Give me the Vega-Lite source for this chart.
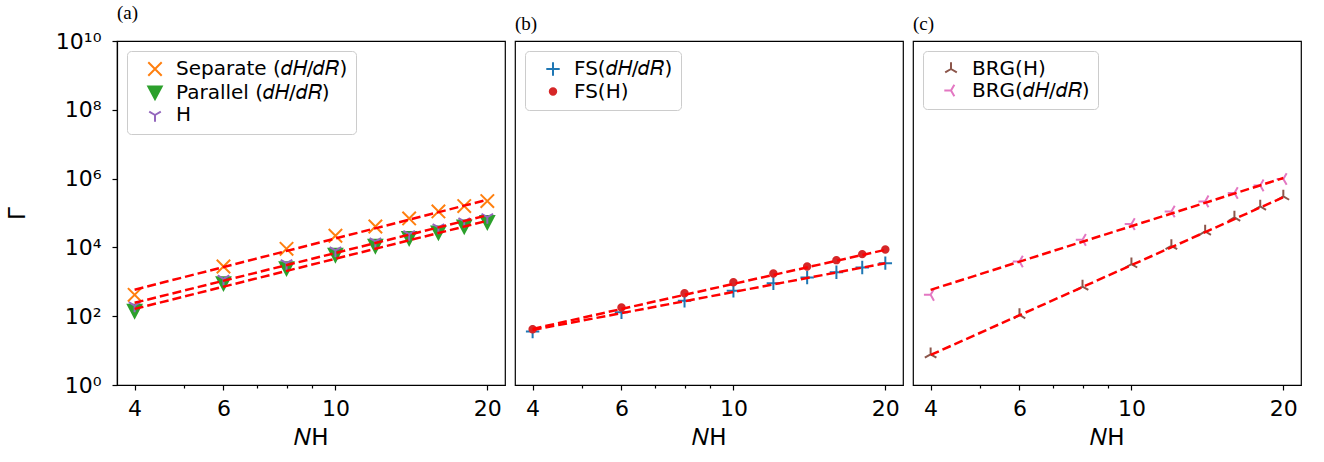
{
  "$schema": "https://vega.github.io/schema/vega-lite/v6.json",
  "padding": {"left": 5, "top": 3, "right": 5, "bottom": 5},
  "spacing": 8,
  "datasets": {
    "pts": [
      {"panel": "a", "series": "Separate (𝑑𝐻/𝑑𝑅)", "N": 4, "G": 417},
      {"panel": "a", "series": "Separate (𝑑𝐻/𝑑𝑅)", "N": 6, "G": 2786},
      {"panel": "a", "series": "Separate (𝑑𝐻/𝑑𝑅)", "N": 8, "G": 9100},
      {"panel": "a", "series": "Separate (𝑑𝐻/𝑑𝑅)", "N": 10, "G": 21800},
      {"panel": "a", "series": "Separate (𝑑𝐻/𝑑𝑅)", "N": 12, "G": 40600},
      {"panel": "a", "series": "Separate (𝑑𝐻/𝑑𝑅)", "N": 14, "G": 69500},
      {"panel": "a", "series": "Separate (𝑑𝐻/𝑑𝑅)", "N": 16, "G": 111000},
      {"panel": "a", "series": "Separate (𝑑𝐻/𝑑𝑅)", "N": 18, "G": 159000},
      {"panel": "a", "series": "Separate (𝑑𝐻/𝑑𝑅)", "N": 20, "G": 222000},
      {"panel": "a", "series": "Parallel (𝑑𝐻/𝑑𝑅)", "N": 4, "G": 143},
      {"panel": "a", "series": "Parallel (𝑑𝐻/𝑑𝑅)", "N": 6, "G": 912},
      {"panel": "a", "series": "Parallel (𝑑𝐻/𝑑𝑅)", "N": 8, "G": 2490},
      {"panel": "a", "series": "Parallel (𝑑𝐻/𝑑𝑅)", "N": 10, "G": 6090},
      {"panel": "a", "series": "Parallel (𝑑𝐻/𝑑𝑅)", "N": 12, "G": 11100},
      {"panel": "a", "series": "Parallel (𝑑𝐻/𝑑𝑅)", "N": 14, "G": 18600},
      {"panel": "a", "series": "Parallel (𝑑𝐻/𝑑𝑅)", "N": 16, "G": 27200},
      {"panel": "a", "series": "Parallel (𝑑𝐻/𝑑𝑅)", "N": 18, "G": 40600},
      {"panel": "a", "series": "Parallel (𝑑𝐻/𝑑𝑅)", "N": 20, "G": 54400},
      {"panel": "a", "series": "H", "N": 4, "G": 204},
      {"panel": "a", "series": "H", "N": 6, "G": 1219},
      {"panel": "a", "series": "H", "N": 8, "G": 3480},
      {"panel": "a", "series": "H", "N": 10, "G": 8140},
      {"panel": "a", "series": "H", "N": 12, "G": 14900},
      {"panel": "a", "series": "H", "N": 14, "G": 24300},
      {"panel": "a", "series": "H", "N": 16, "G": 38000},
      {"panel": "a", "series": "H", "N": 18, "G": 56900},
      {"panel": "a", "series": "H", "N": 20, "G": 76000},
      {"panel": "b", "series": "FS(𝑑𝐻/𝑑𝑅)", "N": 4, "G": 35.7},
      {"panel": "b", "series": "FS(𝑑𝐻/𝑑𝑅)", "N": 6, "G": 130},
      {"panel": "b", "series": "FS(𝑑𝐻/𝑑𝑅)", "N": 8, "G": 279},
      {"panel": "b", "series": "FS(𝑑𝐻/𝑑𝑅)", "N": 10, "G": 545},
      {"panel": "b", "series": "FS(𝑑𝐻/𝑑𝑅)", "N": 12, "G": 912},
      {"panel": "b", "series": "FS(𝑑𝐻/𝑑𝑅)", "N": 14, "G": 1334},
      {"panel": "b", "series": "FS(𝑑𝐻/𝑑𝑅)", "N": 16, "G": 1905},
      {"panel": "b", "series": "FS(𝑑𝐻/𝑑𝑅)", "N": 18, "G": 2606},
      {"panel": "b", "series": "FS(𝑑𝐻/𝑑𝑅)", "N": 20, "G": 3484},
      {"panel": "b", "series": "FS(H)", "N": 4, "G": 41.8},
      {"panel": "b", "series": "FS(H)", "N": 6, "G": 178},
      {"panel": "b", "series": "FS(H)", "N": 8, "G": 466},
      {"panel": "b", "series": "FS(H)", "N": 10, "G": 975},
      {"panel": "b", "series": "FS(H)", "N": 12, "G": 1742},
      {"panel": "b", "series": "FS(H)", "N": 14, "G": 2786},
      {"panel": "b", "series": "FS(H)", "N": 16, "G": 4260},
      {"panel": "b", "series": "FS(H)", "N": 18, "G": 6370},
      {"panel": "b", "series": "FS(H)", "N": 20, "G": 8710},
      {"panel": "c", "series": "BRG(H)", "N": 4, "G": 7.8},
      {"panel": "c", "series": "BRG(H)", "N": 6, "G": 109},
      {"panel": "c", "series": "BRG(H)", "N": 8, "G": 729},
      {"panel": "c", "series": "BRG(H)", "N": 10, "G": 3260},
      {"panel": "c", "series": "BRG(H)", "N": 12, "G": 11100},
      {"panel": "c", "series": "BRG(H)", "N": 14, "G": 29100},
      {"panel": "c", "series": "BRG(H)", "N": 16, "G": 74300},
      {"panel": "c", "series": "BRG(H)", "N": 18, "G": 155000},
      {"panel": "c", "series": "BRG(H)", "N": 20, "G": 304000},
      {"panel": "c", "series": "BRG(𝑑𝐻/𝑑𝑅)", "N": 4, "G": 417},
      {"panel": "c", "series": "BRG(𝑑𝐻/𝑑𝑅)", "N": 6, "G": 3900},
      {"panel": "c", "series": "BRG(𝑑𝐻/𝑑𝑅)", "N": 8, "G": 16600},
      {"panel": "c", "series": "BRG(𝑑𝐻/𝑑𝑅)", "N": 10, "G": 47600},
      {"panel": "c", "series": "BRG(𝑑𝐻/𝑑𝑅)", "N": 12, "G": 111000},
      {"panel": "c", "series": "BRG(𝑑𝐻/𝑑𝑅)", "N": 14, "G": 217000},
      {"panel": "c", "series": "BRG(𝑑𝐻/𝑑𝑅)", "N": 16, "G": 380000},
      {"panel": "c", "series": "BRG(𝑑𝐻/𝑑𝑅)", "N": 18, "G": 635000},
      {"panel": "c", "series": "BRG(𝑑𝐻/𝑑𝑅)", "N": 20, "G": 972000}
    ],
    "fits": [
      {"panel": "a", "series": "Separate (𝑑𝐻/𝑑𝑅)", "N": 4, "G": 589},
      {"panel": "a", "series": "Separate (𝑑𝐻/𝑑𝑅)", "N": 20, "G": 243000},
      {"panel": "a", "series": "H", "N": 4, "G": 245},
      {"panel": "a", "series": "H", "N": 20, "G": 85900},
      {"panel": "a", "series": "Parallel (𝑑𝐻/𝑑𝑅)", "N": 4, "G": 163},
      {"panel": "a", "series": "Parallel (𝑑𝐻/𝑑𝑅)", "N": 20, "G": 59400},
      {"panel": "b", "series": "FS(H)", "N": 4, "G": 42.7},
      {"panel": "b", "series": "FS(H)", "N": 20, "G": 8510},
      {"panel": "b", "series": "FS(𝑑𝐻/𝑑𝑅)", "N": 4, "G": 39.8},
      {"panel": "b", "series": "FS(𝑑𝐻/𝑑𝑅)", "N": 20, "G": 3470},
      {"panel": "c", "series": "BRG(𝑑𝐻/𝑑𝑅)", "N": 4, "G": 583},
      {"panel": "c", "series": "BRG(𝑑𝐻/𝑑𝑅)", "N": 20, "G": 1040000},
      {"panel": "c", "series": "BRG(H)", "N": 4, "G": 7.46},
      {"panel": "c", "series": "BRG(H)", "N": 20, "G": 288000}
    ]
  },
  "hconcat": [
    {
      "width": 388, "height": 344,
      "title": {"text": "(a)"},
      "encoding": {
        "x": {"field": "N", "type": "quantitative",
          "scale": {"type": "log", "domain": [3.691, 21.68], "nice": false, "zero": false},
          "axis": {"values": [4, 5, 6, 7, 8, 9, 10, 20],
            "labelExpr": "datum.value == 4 || datum.value == 6 || datum.value == 10 || datum.value == 20 ? format(datum.value, 'd') : ''",
            "tickSize": {"condition": {"test": "datum.value == 5 || datum.value == 7 || datum.value == 8 || datum.value == 9", "value": 3}, "value": 5},
            "title": "𝑁H"}},
        "y": {"field": "G", "type": "quantitative",
          "scale": {"type": "log", "domain": [1, 10000000000], "nice": false, "zero": false},
          "axis": {"values": [1, 100, 10000, 1000000, 100000000, 10000000000],
            "labelExpr": "'10' + (round(log(datum.value)/LN10) == 0 ? '⁰' : round(log(datum.value)/LN10) == 2 ? '²' : round(log(datum.value)/LN10) == 4 ? '⁴' : round(log(datum.value)/LN10) == 6 ? '⁶' : round(log(datum.value)/LN10) == 8 ? '⁸' : '¹⁰')",
            "title": "Γ"}}
      },
      "layer": [
        {
          "data": {"name": "pts"},
          "transform": [{"filter": "datum.panel == 'a'"}],
          "mark": {"type": "point", "strokeWidth": 2, "opacity": 1, "size": 180},
          "encoding": {
            "stroke": {"field": "series", "type": "nominal",
              "scale": {"domain": ["Separate (𝑑𝐻/𝑑𝑅)", "Parallel (𝑑𝐻/𝑑𝑅)", "H"], "range": ["#ff7f0e", "#2ca02c", "#9467bd"]},
              "legend": {"title": null}},
            "fill": {"field": "series", "type": "nominal",
              "scale": {"domain": ["Separate (𝑑𝐻/𝑑𝑅)", "Parallel (𝑑𝐻/𝑑𝑅)", "H"], "range": ["transparent", "#2ca02c", "transparent"]},
              "legend": {"title": null}},
            "shape": {"field": "series", "type": "nominal",
              "scale": {"domain": ["Separate (𝑑𝐻/𝑑𝑅)", "Parallel (𝑑𝐻/𝑑𝑅)", "H"], "range": ["M-1,-1L1,1M-1,1L1,-1", "M-1,-0.9L1,-0.9L0,1Z", "M0,0L0,1M0,0L-0.866,-0.5M0,0L0.866,-0.5"]},
              "legend": {"title": null}}
          }
        },
        {
          "data": {"name": "fits"},
          "transform": [{"filter": "datum.panel == 'a'"}],
          "mark": {"type": "line", "color": "#ff0000", "strokeWidth": 2.5, "strokeDash": [9, 4]},
          "encoding": {"detail": {"field": "series", "type": "nominal"}}
        }
      ]
    },
    {
      "width": 388, "height": 344,
      "title": {"text": "(b)"},
      "encoding": {
        "x": {"field": "N", "type": "quantitative",
          "scale": {"type": "log", "domain": [3.691, 21.68], "nice": false, "zero": false},
          "axis": {"values": [4, 5, 6, 7, 8, 9, 10, 20],
            "labelExpr": "datum.value == 4 || datum.value == 6 || datum.value == 10 || datum.value == 20 ? format(datum.value, 'd') : ''",
            "tickSize": {"condition": {"test": "datum.value == 5 || datum.value == 7 || datum.value == 8 || datum.value == 9", "value": 3}, "value": 5},
            "title": "𝑁H"}},
        "y": {"field": "G", "type": "quantitative",
          "scale": {"type": "log", "domain": [1, 10000000000], "nice": false, "zero": false},
          "axis": null}
      },
      "layer": [
        {
          "data": {"name": "pts"},
          "transform": [{"filter": "datum.panel == 'b'"}],
          "mark": {"type": "point", "strokeWidth": 2, "opacity": 1, "size": 180},
          "encoding": {
            "stroke": {"field": "series", "type": "nominal",
              "scale": {"domain": ["FS(𝑑𝐻/𝑑𝑅)", "FS(H)"], "range": ["#1f77b4", "#d62728"]},
              "legend": {"title": null}},
            "fill": {"field": "series", "type": "nominal",
              "scale": {"domain": ["FS(𝑑𝐻/𝑑𝑅)", "FS(H)"], "range": ["transparent", "#d62728"]},
              "legend": {"title": null}},
            "shape": {"field": "series", "type": "nominal",
              "scale": {"domain": ["FS(𝑑𝐻/𝑑𝑅)", "FS(H)"], "range": ["M-1,0L1,0M0,-1L0,1", "M-0.48,0A0.48,0.48,0,1,1,0.48,0A0.48,0.48,0,1,1,-0.48,0Z"]},
              "legend": {"title": null}}
          }
        },
        {
          "data": {"name": "fits"},
          "transform": [{"filter": "datum.panel == 'b'"}],
          "mark": {"type": "line", "color": "#ff0000", "strokeWidth": 2.5, "strokeDash": [9, 4]},
          "encoding": {"detail": {"field": "series", "type": "nominal"}}
        }
      ]
    },
    {
      "width": 388, "height": 344,
      "title": {"text": "(c)"},
      "encoding": {
        "x": {"field": "N", "type": "quantitative",
          "scale": {"type": "log", "domain": [3.691, 21.68], "nice": false, "zero": false},
          "axis": {"values": [4, 5, 6, 7, 8, 9, 10, 20],
            "labelExpr": "datum.value == 4 || datum.value == 6 || datum.value == 10 || datum.value == 20 ? format(datum.value, 'd') : ''",
            "tickSize": {"condition": {"test": "datum.value == 5 || datum.value == 7 || datum.value == 8 || datum.value == 9", "value": 3}, "value": 5},
            "title": "𝑁H"}},
        "y": {"field": "G", "type": "quantitative",
          "scale": {"type": "log", "domain": [1, 10000000000], "nice": false, "zero": false},
          "axis": null}
      },
      "layer": [
        {
          "data": {"name": "pts"},
          "transform": [{"filter": "datum.panel == 'c'"}],
          "mark": {"type": "point", "strokeWidth": 2, "opacity": 1, "size": 180},
          "encoding": {
            "stroke": {"field": "series", "type": "nominal",
              "scale": {"domain": ["BRG(H)", "BRG(𝑑𝐻/𝑑𝑅)"], "range": ["#8c564b", "#e377c2"]},
              "legend": {"title": null}},
            "fill": {"field": "series", "type": "nominal",
              "scale": {"domain": ["BRG(H)", "BRG(𝑑𝐻/𝑑𝑅)"], "range": ["transparent", "transparent"]},
              "legend": {"title": null}},
            "shape": {"field": "series", "type": "nominal",
              "scale": {"domain": ["BRG(H)", "BRG(𝑑𝐻/𝑑𝑅)"], "range": ["M0,0L0,-1M0,0L-0.866,0.5M0,0L0.866,0.5", "M0,0L-1,0M0,0L0.5,-0.866M0,0L0.5,0.866"]},
              "legend": {"title": null}}
          }
        },
        {
          "data": {"name": "fits"},
          "transform": [{"filter": "datum.panel == 'c'"}],
          "mark": {"type": "line", "color": "#ff0000", "strokeWidth": 2.5, "strokeDash": [9, 4]},
          "encoding": {"detail": {"field": "series", "type": "nominal"}}
        }
      ]
    }
  ],
  "resolve": {
    "scale": {"x": "independent", "y": "independent", "stroke": "independent", "fill": "independent", "shape": "independent"},
    "legend": {"stroke": "independent", "fill": "independent", "shape": "independent"}
  },
  "config": {
    "font": "DejaVu Sans",
    "view": {"stroke": "#000000", "strokeWidth": 1.2},
    "axis": {
      "grid": false,
      "domainColor": "#000000", "domainWidth": 1.2,
      "tickColor": "#000000", "tickWidth": 1.2, "tickSize": 5,
      "labelColor": "#000000", "labelFontSize": 22, "labelPadding": 8,
      "labelFont": "DejaVu Sans", "labelOverlap": false, "labelBound": false, "labelFlush": false,
      "titleColor": "#000000", "titleFontSize": 23, "titleFontWeight": "normal", "titleFont": "DejaVu Sans"
    },
    "axisY": {"titlePadding": 26, "labelPadding": 11},
    "axisX": {"titlePadding": 7},
    "legend": {
      "orient": "top-left", "offset": 10,
      "labelFontSize": 20, "labelFont": "DejaVu Sans", "labelColor": "#000000", "labelLimit": 400,
      "symbolSize": 180, "symbolStrokeWidth": 2,
      "fillColor": "rgba(255,255,255,0.8)", "strokeColor": "#cccccc", "cornerRadius": 4,
      "padding": 8, "rowPadding": 1.5, "symbolOffset": 10, "labelOffset": 11
    },
    "title": {"anchor": "start", "font": "Liberation Serif", "fontSize": 19, "fontWeight": "normal", "color": "#000000", "offset": 7, "frame": "group"}
  }
}
